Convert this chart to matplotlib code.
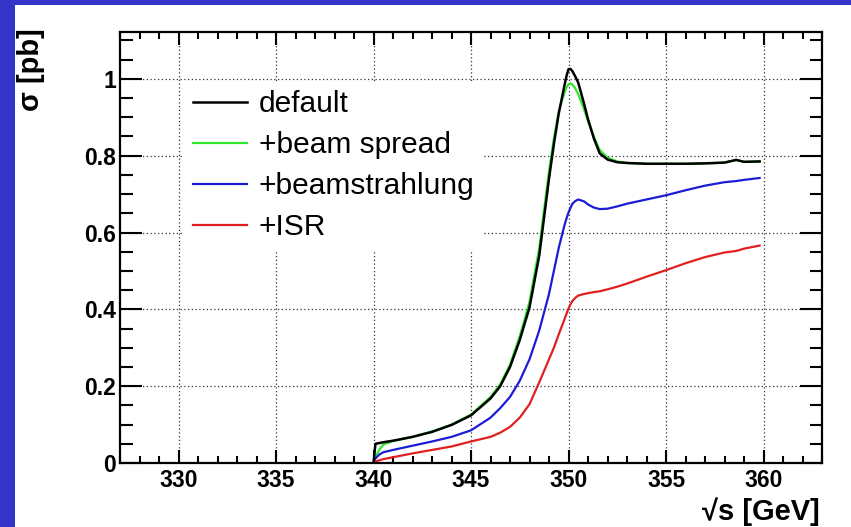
import numpy as np
import matplotlib
matplotlib.use('Agg')
import matplotlib.pyplot as plt
from matplotlib.patches import Rectangle
from matplotlib.ticker import MultipleLocator

# sqrt(s) points in GeV
energy = [340.0, 340.1, 340.3, 340.5, 341, 342, 343, 344, 345, 346, 346.5, 347, 347.5,
          348, 348.5, 349, 349.25, 349.5, 349.8, 349.9, 350, 350.1, 350.2, 350.35, 350.5,
          350.8, 351, 351.3, 351.6, 352, 352.5, 353, 354, 355, 356, 357, 358, 358.6,
          359, 359.8]

# cross sections in pb
xs_default = [0.0, 0.050, 0.052, 0.054, 0.058, 0.068, 0.081, 0.099, 0.124, 0.168, 0.200,
              0.250, 0.320, 0.405, 0.540, 0.740, 0.830, 0.910, 0.985, 1.008, 1.025, 1.026,
              1.020, 1.006, 0.990, 0.935, 0.895, 0.845, 0.806, 0.790, 0.783, 0.781, 0.779,
              0.779, 0.779, 0.780, 0.782, 0.789, 0.784, 0.785]
xs_beam_spread = [0.0, 0.015, 0.035, 0.048, 0.057, 0.068, 0.082, 0.100, 0.126, 0.172, 0.205,
                  0.256, 0.330, 0.420, 0.560, 0.760, 0.845, 0.915, 0.965, 0.978, 0.986,
                  0.988, 0.985, 0.975, 0.960, 0.920, 0.890, 0.850, 0.815, 0.795, 0.785,
                  0.781, 0.779, 0.779, 0.779, 0.780, 0.782, 0.789, 0.784, 0.785]
xs_beamstrahlung = [0.0, 0.012, 0.022, 0.028, 0.034, 0.045, 0.056, 0.068, 0.085, 0.118,
                    0.143, 0.172, 0.214, 0.270, 0.345, 0.440, 0.500, 0.560, 0.620, 0.637,
                    0.652, 0.664, 0.675, 0.682, 0.686, 0.681, 0.673, 0.665, 0.661, 0.662,
                    0.668, 0.675, 0.686, 0.697, 0.710, 0.722, 0.731, 0.734, 0.737, 0.742]
xs_isr = [0.0, 0.004, 0.007, 0.010, 0.015, 0.025, 0.034, 0.043, 0.056, 0.068, 0.079,
          0.094, 0.118, 0.153, 0.210, 0.270, 0.300, 0.335, 0.375, 0.389, 0.402, 0.413,
          0.422, 0.430, 0.436, 0.440, 0.442, 0.445, 0.447, 0.452, 0.459, 0.467, 0.485,
          0.502, 0.520, 0.536, 0.548, 0.552, 0.558, 0.566]

labels = ['default', '+beam spread', '+beamstrahlung', '+ISR']
colors = ['black', '#2ee82e', '#1c1cd6', '#e02020']

plt.rcParams['font.family'] = ['Liberation Sans', 'DejaVu Sans']

fig = plt.figure(figsize=(8.51, 5.27), dpi=100)
fig.patch.set_facecolor('white')
# blue slide border on the left and top
fig.add_artist(Rectangle((0, 0), 15/851, 1, transform=fig.transFigure,
                         facecolor='#3434c8', edgecolor='none', zorder=0))
fig.add_artist(Rectangle((0, 1-5/527), 1, 5/527, transform=fig.transFigure,
                         facecolor='#3434c8', edgecolor='none', zorder=0))

ax = fig.add_axes([120/851, 64/527, 702/851, 431/527])

series = [xs_default, xs_beam_spread, xs_beamstrahlung, xs_isr]
order = [1, 0, 2, 3]
for i in order:
    ax.plot(energy, series[i], color=colors[i], lw=1.8 if i == 0 else 1.6,
            label=labels[i], zorder=3 if i == 0 else 2)

ax.set_xlim(327, 363)
ax.set_ylim(0, 1.122)

ax.xaxis.set_major_locator(MultipleLocator(5))
ax.xaxis.set_minor_locator(MultipleLocator(1))
ax.yaxis.set_major_locator(MultipleLocator(0.2))
ax.yaxis.set_minor_locator(MultipleLocator(0.05))
ax.set_yticks([0, 0.2, 0.4, 0.6, 0.8, 1.0])
ax.set_yticklabels(['0', '0.2', '0.4', '0.6', '0.8', '1'])

ax.tick_params(which='both', direction='in', top=True, right=True, width=1.5,
               labelsize=16.5)
ax.tick_params(axis='x', which='major', length=9.5, pad=4)
ax.tick_params(axis='x', which='minor', length=5)
ax.tick_params(axis='y', which='major', length=16, pad=3)
ax.tick_params(axis='y', which='minor', length=9)
for lab in ax.get_xticklabels() + ax.get_yticklabels():
    lab.set_fontweight('bold')
for s in ax.spines.values():
    s.set_linewidth(1.6)

ax.grid(True, which='major', linestyle=(0, (1, 2)), color='#333333', lw=0.9)
ax.set_axisbelow(True)

ax.set_xlabel('√s [GeV]', loc='right', fontsize=21, fontweight='bold')
ax.xaxis.set_label_coords(0.997, -0.079)
ax.set_ylabel('σ [pb]', loc='top', fontsize=21, fontweight='bold')
ax.yaxis.set_label_coords(-0.107, 1.009)

# legend in the order of the original
h, l = ax.get_legend_handles_labels()
lookup = dict(zip(l, h))
leg = ax.legend([lookup[k] for k in labels], labels, loc='upper left',
                bbox_to_anchor=((184-120)/702, (463-81)/431), fontsize=21.5,
                frameon=True, fancybox=False, framealpha=1, edgecolor='none',
                borderaxespad=0, borderpad=0.3, handlelength=1.8,
                handletextpad=0.4, labelspacing=0.44)
leg.set_zorder(5)

fig.savefig('out.png', dpi=100)
